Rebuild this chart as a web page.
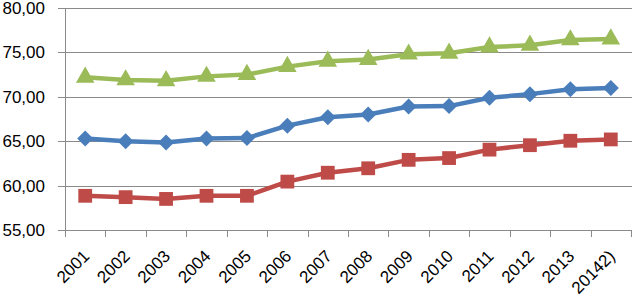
<!DOCTYPE html>
<html>
<head>
<meta charset="utf-8">
<script src="https://cdn.jsdelivr.net/npm/d3@7"></script>
<style>
  body { margin: 0; background: #fff; }
  text { font-family: "Liberation Sans", Arial, sans-serif; }
</style>
</head>
<body>
<div class="container"></div>
<script>
const years = ["2001", "2002", "2003", "2004", "2005", "2006", "2007",
  "2008", "2009", "2010", "2011", "2012", "2013", "20142)"];

const greenValues = [72.2, 71.9, 71.8, 72.3, 72.5, 73.4, 74.0, 74.2, 74.8, 74.9, 75.6, 75.8, 76.4, 76.5];
const blueValues = [65.3, 65.0, 64.85, 65.3, 65.35, 66.75, 67.7, 68.0, 68.9, 68.95, 69.9, 70.3, 70.85, 71.0];
const redValues = [58.85, 58.7, 58.5, 58.85, 58.85, 60.45, 61.45, 61.95, 62.9, 63.1, 64.05, 64.55, 65.05, 65.2];

const yTicks = [55, 60, 65, 70, 75, 80];

// square turned 45 deg, same width and height
const squareDiamond = {
  draw(context, size) {
    const r = Math.sqrt(size / 2);
    context.moveTo(0, -r);
    context.lineTo(r, 0);
    context.lineTo(0, r);
    context.lineTo(-r, 0);
    context.closePath();
  },
};

const series = [
  { name: "green", values: greenValues, color: "#9BBB59", shape: d3.symbolTriangle, size: 150 },
  { name: "blue", values: blueValues, color: "#4A7EBB", shape: squareDiamond, size: 128 },
  { name: "red", values: redValues, color: "#BE4B48", shape: d3.symbolSquare, size: 190 },
];

const width = 632, height = 298;
const margin = { top: 8, right: 0, bottom: 68, left: 65 };

const svg = d3
  .select(".container")
  .append("svg")
  .attr("width", width)
  .attr("height", height);

const xScale = d3
  .scaleBand()
  .domain(years)
  .range([margin.left, width - 1]);

const yScale = d3
  .scaleLinear()
  .domain([55, 80])
  .range([height - margin.bottom, margin.top]);

// gridlines
svg
  .append("g")
  .selectAll("line")
  .data(yTicks)
  .join("line")
  .attr("x1", margin.left - 7)
  .attr("x2", width)
  .attr("y1", (d) => Math.round(yScale(d)) + 0.5)
  .attr("y2", (d) => Math.round(yScale(d)) + 0.5)
  .attr("stroke", "#8a8a8a")
  .attr("stroke-width", 1);

// y labels
svg
  .append("g")
  .selectAll("text")
  .data(yTicks)
  .join("text")
  .attr("x", 45)
  .attr("y", (d) => yScale(d) + 6)
  .attr("text-anchor", "end")
  .style("font-size", "17px")
  .style("fill", "#000")
  .text((d) => d3.format(".2f")(d).replace(".", ","));

// y axis line
svg
  .append("line")
  .attr("x1", margin.left + 0.5)
  .attr("x2", margin.left + 0.5)
  .attr("y1", yScale(80))
  .attr("y2", yScale(55))
  .attr("stroke", "#8a8a8a");

// x tick marks
const tickXs = years.map((y) => xScale(y)).concat([xScale.range()[1]]);
svg
  .append("g")
  .selectAll("line")
  .data(tickXs)
  .join("line")
  .attr("x1", (d) => Math.round(d) + 0.5)
  .attr("x2", (d) => Math.round(d) + 0.5)
  .attr("y1", yScale(55))
  .attr("y2", yScale(55) + 7)
  .attr("stroke", "#8a8a8a");

// x labels
svg
  .append("g")
  .selectAll("text")
  .data(years)
  .join("text")
  .attr("transform", (d) => {
    const x = xScale(d) + xScale.bandwidth() / 2 + 1;
    const y = yScale(55) + 23;
    return `translate(${x},${y}) rotate(-45)`;
  })
  .attr("text-anchor", "end")
  .attr("dy", "0.35em")
  .style("font-size", "17px")
  .style("fill", "#000")
  .text((d) => d);

const cx = (i) => xScale(years[i]) + xScale.bandwidth() / 2;

const line = d3
  .line()
  .x((d, i) => cx(i))
  .y((d) => yScale(d));

series.forEach((s) => {
  svg
    .append("path")
    .datum(s.values)
    .attr("d", line)
    .attr("fill", "none")
    .attr("stroke", s.color)
    .attr("stroke-width", 4.5)
    .attr("stroke-linejoin", "round");

  svg
    .append("g")
    .selectAll("path")
    .data(s.values)
    .join("path")
    .attr("d", d3.symbol().type(s.shape).size(s.size))
    .attr("transform", (d, i) => `translate(${cx(i)},${yScale(d)})`)
    .attr("fill", s.color);
});
</script>
</body>
</html>
